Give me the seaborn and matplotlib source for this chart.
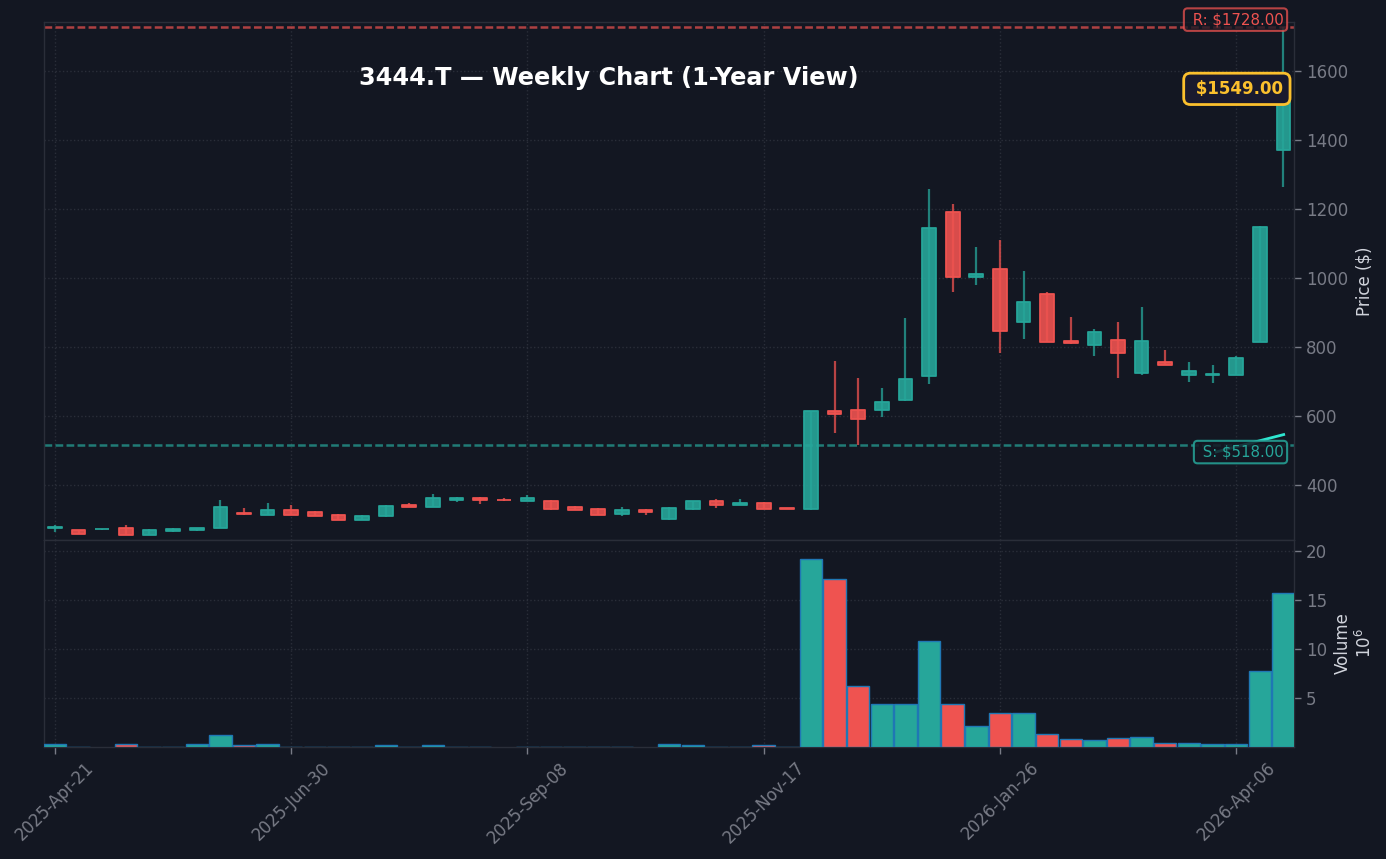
import pandas as pd
import matplotlib
matplotlib.use("Agg")
import matplotlib.pyplot as plt
import seaborn as sns

# weekly candles
opens = [277, 269, 272, 277, 256, 267.5, 270.5, 276, 320, 314, 327, 324, 315, 299, 311, 344, 337, 357,
         364, 357, 354.5, 355.5, 338, 332, 317, 329.5, 302, 331, 355.5, 343, 350, 333.5, 331, 616, 619,
         618, 647, 718, 1193, 1004, 1028, 873, 955, 819, 807, 822, 725, 758, 721, 720, 721, 816, 1371]
highs = [284, 271, 274, 284, 272, 277, 277, 356, 335, 348, 342, 326, 316, 313, 342, 348, 374, 365,
         365, 362, 371, 356, 340, 333, 336, 331, 336, 354, 359, 359, 351, 335, 616, 759, 710,
         681, 884, 1258, 1214, 1090, 1110, 1020, 959, 887, 852, 872, 916, 791, 758, 748, 774, 1151, 1728]
lows = [264, 258, 271, 255, 255, 265, 267, 275, 313, 313, 313, 310, 298, 298, 309, 336, 336, 351,
        345, 355, 353, 329, 327, 313, 310, 313, 298.5, 327.5, 333, 342, 330, 331, 329, 551, 517,
        597, 644, 693, 959, 980, 783, 823, 814, 809, 774, 710, 720, 748, 699, 696, 720, 815, 1265]
closes = [279, 260, 273, 256, 271.5, 274.5, 277, 338, 318, 327, 314, 311, 299, 312, 341, 337, 364, 364,
          357, 356, 364, 331, 328, 314, 329.5, 322.5, 335, 353, 343, 350, 331, 332.5, 615, 607, 592,
          642, 709, 1147, 1004, 1013, 847, 932, 815, 812, 845, 783, 819, 749, 732, 723, 770, 1150, 1549]
# in millions, None = no trades that week
volumes = [0.3, 0.05, None, 0.35, 0.05, 0.05, 0.35, 1.2, 0.25, 0.27, 0.05, 0.05, 0.05, 0.05, 0.18, 0.05,
           0.18, 0.05, 0.05, None, 0.05, 0.05, 0.05, 0.05, 0.05, None, 0.27, 0.18, 0.05, 0.05, 0.2, 0.05,
           19.2, 17.1, 6.2, 4.4, 4.4, 10.8, 4.4, 2.15, 3.5, 3.5, 1.3, 0.8, 0.7, 0.9, 1.0, 0.4, 0.4, 0.3,
           0.3, 7.75, 15.7]

price_ticks = [400, 600, 800, 1000, 1200, 1400, 1600]
volume_ticks = [5, 10, 15, 20]
date_ticks = [0, 10, 20, 30, 40, 50]
date_labels = ['2025-Apr-21', '2025-Jun-30', '2025-Sep-08', '2025-Nov-17', '2026-Jan-26', '2026-Apr-06']

resistance = 1728
support = 518
last_price = 1549
# bright stroke that runs behind the support label
stroke_x = [49.1, 52.07]
stroke_y = [495.6, 548]

BG = '#131722'
UP = '#26a69a'
DOWN = '#ef5350'
GRID = '#2a2e39'
TICK = '#787b86'
LABEL = '#d1d4dc'
GOLD = '#fbc02d'

df = pd.DataFrame({'open': opens, 'high': highs, 'low': lows, 'close': closes, 'volume': volumes})
df['week'] = df.index
df['direction'] = ['up' if c >= o else 'down' for o, c in zip(df['open'], df['close'])]
df['body_low'] = df[['open', 'close']].min(axis=1)
df['body'] = (df['close'] - df['open']).abs()

sns.set_theme(style="dark", rc={'axes.facecolor': BG, 'figure.facecolor': BG, 'savefig.facecolor': BG})
plt.rcParams['font.family'] = ['DejaVu Sans']

W, H = 1386, 859
fig = plt.figure(figsize=(W / 100, H / 100), dpi=100)
ax = fig.add_axes([44 / W, 1 - 540 / H, 1250 / W, 518 / H])
ax_vol = fig.add_axes([44 / W, 1 - 747 / H, 1250 / W, 207 / H])

# candles
for direction, color in [('up', UP), ('down', DOWN)]:
    sub = df[df['direction'] == direction]
    ax.vlines(sub['week'], sub['low'], sub['high'], color=color, linewidth=1.6, alpha=0.75, zorder=2)
    sns.barplot(data=sub, x='week', y='body', bottom=sub['body_low'].values, native_scale=True,
                color=color, saturation=1, width=0.58, errorbar=None, alpha=0.9,
                edgecolor=color, linewidth=1.4, joinstyle='round', zorder=3, ax=ax)

ax.axhline(resistance, color=DOWN, linestyle=(0, (3.08, 1.33)), linewidth=1.8, alpha=0.7, zorder=2)
ax.axhline(support, color=UP, linestyle=(0, (3.08, 1.33)), linewidth=1.8, alpha=0.7, zorder=2)
ax.plot(stroke_x, stroke_y, color='#2ee6d0', linewidth=2, zorder=4, solid_capstyle='butt')

# volume
sns.barplot(data=df, x='week', y='volume', hue='direction', palette={'up': UP, 'down': DOWN},
            native_scale=True, dodge=False, saturation=1, width=0.95, errorbar=None,
            edgecolor='#1f77b4', linewidth=1, legend=False, zorder=3, ax=ax_vol)

# price labels
ax.text(52, resistance, f' R: ${resistance}.00', ha='right', va='bottom', fontsize=10.8, color=DOWN, zorder=6,
        bbox=dict(boxstyle='round,pad=0.25', facecolor=BG, edgecolor=DOWN, alpha=0.75, linewidth=1.5), clip_on=False)
ax.text(52, support, f' S: ${support}.00', ha='right', va='top', fontsize=10.8, color=UP, zorder=6,
        bbox=dict(boxstyle='round,pad=0.25', facecolor=BG, edgecolor=UP, alpha=0.85, linewidth=1.5), clip_on=False)
ax.text(52, last_price, f' ${last_price}.00', ha='right', va='center', fontsize=12, fontweight='bold', color=GOLD,
        zorder=7, bbox=dict(boxstyle='round,pad=0.4', facecolor='#1a1a2e', edgecolor=GOLD, linewidth=2), clip_on=False)

for a in (ax, ax_vol):
    a.set_facecolor(BG)
    a.set_xlim(-0.466, 52.45)
    a.set_xticks(date_ticks)
    a.yaxis.tick_right()
    a.yaxis.set_label_position('right')
    a.grid(True, color=GRID, linestyle=':', linewidth=1)
    a.set_axisbelow(True)
    a.tick_params(axis='y', colors=TICK, labelsize=12, length=5, width=1, left=False, right=True)
    for spine in a.spines.values():
        spine.set_visible(True)
        spine.set_color(GRID)
        spine.set_linewidth(1)

ax.set_ylim(241.4, 1742.8)
ax.set_yticks(price_ticks)
ax.set_xlabel('')
ax.set_ylabel('Price ($)', color=LABEL, fontsize=12, labelpad=5)
ax.tick_params(axis='x', bottom=False, labelbottom=False)

ax_vol.set_ylim(0, 21.1)
ax_vol.set_yticks(volume_ticks)
ax_vol.set_xlabel('')
ax_vol.set_ylabel('Volume\n$10^{6}$', color=LABEL, fontsize=12, labelpad=5)
ax_vol.set_xticklabels(date_labels)
ax_vol.tick_params(axis='x', colors=TICK, labelsize=12, length=5, width=1, bottom=True, labelrotation=45)

fig.text(608.5 / W, 1 - 78 / H, '3444.T \u2014 Weekly Chart (1-Year View)', color='white', fontsize=17.3,
         fontweight='bold', ha='center', va='center')

fig.savefig('out.png', dpi=100)
